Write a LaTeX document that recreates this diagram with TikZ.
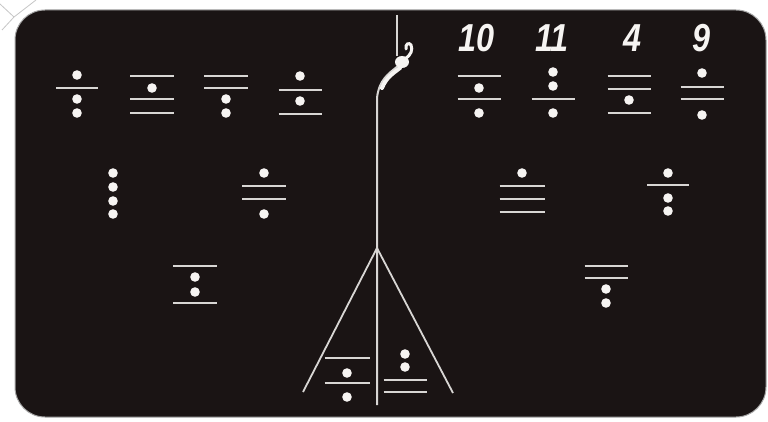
\documentclass[tikz,border=0pt]{standalone}
\usepackage{fontspec}
\setmainfont{Liberation Sans}
\definecolor{board}{HTML}{1A1414}
\definecolor{chalk}{HTML}{D8D6D4}
\definecolor{dotw}{HTML}{F6F4F2}
\tikzset{
  bar/.style={draw=chalk, line width=2.5pt},
  dotc/.style={fill=dotw},
  leg/.style={draw=chalk, line width=1.8pt},
  numlab/.style={text=dotw, anchor=base, inner sep=0pt, xscale=0.83,
    font=\fontsize{39}{39}\selectfont\bfseries\itshape},
}
\newcommand\mydot[2]{\fill[dotc] (#1,#2) circle (4.8);}
\newcommand\mybar[3]{\draw[bar] ({#1-#3},#2) -- ({#1+#3},#2);}
\begin{document}
\begin{tikzpicture}[x=1pt,y=-1pt]
\useasboundingbox (0,0) rectangle (768,422);
\fill[white] (0,0) rectangle (768,422);
% corner fragment
\draw[gray!45, line width=0.8pt] (0,4) -- (14,17) -- (2,30) (14,17) -- (36,0);
% board
\draw[gray!70, line width=1pt, fill=board, rounded corners=30pt] (15,10) rectangle (766,417);

% numbers
\node[numlab] (n10) at (476,52) {10};
\node[numlab] (n11) at (552,52) {11};
\node[numlab] (n4) at (632,52) {4};
\node[numlab] (n9) at (701,52) {9};

% row 1 left
\mydot{77}{75} \mybar{77}{88}{21} \mydot{77}{99} \mydot{77}{113}
\mybar{152}{76}{22} \mydot{152}{88} \mybar{152}{99}{22} \mybar{152}{113}{22}
\mybar{226}{76}{22} \mybar{226}{88}{22} \mydot{226}{99} \mydot{226}{113}
\mydot{300}{76} \mybar{300}{90}{21.5} \mydot{300}{101} \mybar{300}{114}{21.5}
% row 1 right
\mybar{479}{76}{21.5} \mydot{479}{88} \mybar{479}{99}{21.5} \mydot{479}{113}
\mydot{553}{72} \mydot{553}{86} \mybar{553}{99}{21.5} \mydot{553}{113}
\mybar{629}{76}{21.5} \mybar{629}{89}{21.5} \mydot{629}{100} \mybar{629}{113}{21.5}
\mydot{702}{73} \mybar{702}{87}{21.5} \mybar{702}{99}{21.5} \mydot{702}{115}
% row 2
\mydot{113}{173} \mydot{113}{187} \mydot{113}{201} \mydot{113}{214}
\mydot{264}{173} \mybar{264}{186}{22} \mybar{264}{199}{22} \mydot{264}{214}
\mydot{522}{173} \mybar{522}{186}{22.5} \mybar{522}{199}{22.5} \mybar{522}{212}{22.5}
\mydot{668}{173} \mybar{668}{185}{21} \mydot{668}{198} \mydot{668}{211}
% row 3
\mybar{195}{266}{22} \mydot{195}{277} \mydot{195}{292} \mybar{195}{303}{22}
\mybar{606}{266}{21.5} \mybar{606}{278}{21.5} \mydot{606}{289} \mydot{606}{303}

% central figure
\coordinate (apex) at (377,248);
\coordinate (lfoot) at (303,392);
\coordinate (rfoot) at (453,393);
\coordinate (sbot) at (377,405);
\draw[leg] (apex) -- (lfoot);
\draw[leg] (apex) -- (rfoot);
\draw[leg, line width=2pt] (398,66) .. controls (388,74) and (379,80) .. (377,98) -- (sbot);
% top calligraphic mark
\draw[chalk, line width=1.5pt] (397,15) -- (397,56);
\fill[dotw] (402,62) ellipse (7 and 6);
\draw[dotw, line width=4pt, line cap=round] (400,68) .. controls (392,74) and (386,78) .. (382,88);
\draw[dotw, line width=3pt, line cap=round] (405,59) .. controls (411,55) and (413,50) .. (411,45) .. controls (409,42) and (405,44) .. (406,49);
% inner groups
\mybar{347}{358}{22.5} \mydot{347}{373} \mybar{347}{383}{22.5} \mydot{347}{397}
\mydot{405}{354} \mydot{405}{367} \mybar{405}{380}{21.5} \mybar{405}{392}{21.5}
\end{tikzpicture}
\end{document}
